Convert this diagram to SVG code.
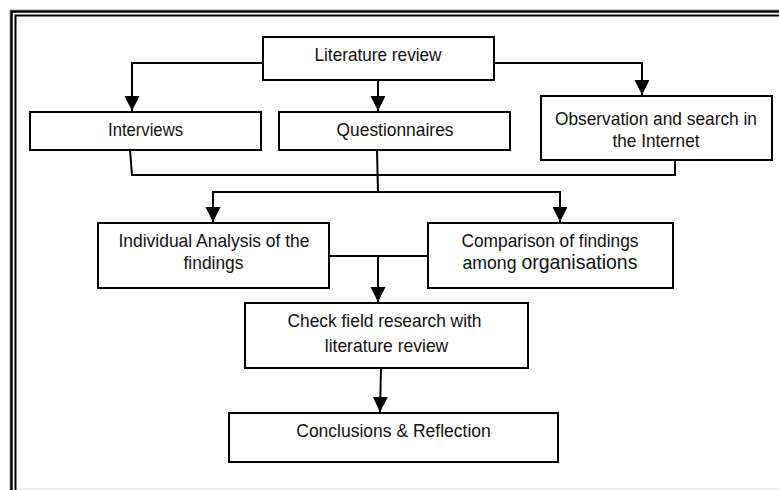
<svg xmlns="http://www.w3.org/2000/svg" width="779" height="490" viewBox="0 0 779 490">
<style>
.box{fill:#fff;stroke:#000;stroke-width:2}
.t{font-family:"Liberation Sans",Arial,sans-serif;font-size:19px;fill:#111;text-anchor:middle}
.c{fill:none;stroke:#000;stroke-width:2}
</style>
<defs>
<marker id="ah" markerUnits="userSpaceOnUse" markerWidth="16" markerHeight="16" refX="15" refY="8" orient="auto">
<path d="M0,0.5 L15,8 L0,15.5 z" fill="#000"/>
</marker>
</defs>
<rect x="0" y="0" width="779" height="490" fill="#fff"/>
<g id="frame">
<path d="M9.5,490 V9.5 H779" fill="none" stroke="#ccc" stroke-width="1"/>
<path d="M11.5,490 V11.5 H779" fill="none" stroke="#000" stroke-width="2.5"/>
<path d="M15.5,490 V15.5 H779" fill="none" stroke="#000" stroke-width="2"/>
<path d="M17,489 H779" fill="none" stroke="#ddd" stroke-width="1"/>
</g>
<g id="connectors">
<path class="c" d="M263,63 H132 V111" marker-end="url(#ah)"/>
<path class="c" d="M378,80 V111" marker-end="url(#ah)"/>
<path class="c" d="M494,63 H642 V95" marker-end="url(#ah)"/>
<path class="c" d="M130,150 L132,175 H675 V160"/>
<path class="c" d="M377,150 L378,192"/>
<path class="c" d="M378,192 H213 V222" marker-end="url(#ah)"/>
<path class="c" d="M378,192 H560 V222" marker-end="url(#ah)"/>
<path class="c" d="M329,256 H428"/>
<path class="c" d="M378,256 V302" marker-end="url(#ah)"/>
<path class="c" d="M381,368 L380,412" marker-end="url(#ah)"/>
</g>
<g id="literature-review">
<rect class="box" x="263" y="37" width="231" height="43"/>
<text class="t" x="378" y="61" textLength="127" lengthAdjust="spacingAndGlyphs">Literature review</text>
</g>
<g id="interviews">
<rect class="box" x="30" y="112" width="231" height="38"/>
<text class="t" x="145.5" y="136" textLength="75" lengthAdjust="spacingAndGlyphs">Interviews</text>
</g>
<g id="questionnaires">
<rect class="box" x="279" y="112" width="231" height="38"/>
<text class="t" x="395" y="136" textLength="117" lengthAdjust="spacingAndGlyphs">Questionnaires</text>
</g>
<g id="observation">
<rect class="box" x="541" y="96" width="231" height="64"/>
<text class="t" x="656" y="124.5" textLength="202" lengthAdjust="spacingAndGlyphs">Observation and search in</text>
<text class="t" x="656" y="146.5" textLength="87" lengthAdjust="spacingAndGlyphs">the Internet</text>
</g>
<g id="individual-analysis">
<rect class="box" x="98" y="223" width="231" height="65"/>
<text class="t" x="214" y="246.5" textLength="191" lengthAdjust="spacingAndGlyphs">Individual Analysis of the</text>
<text class="t" x="213.5" y="268.5" textLength="60" lengthAdjust="spacingAndGlyphs">findings</text>
</g>
<g id="comparison">
<rect class="box" x="428" y="223" width="245" height="65"/>
<text class="t" x="550" y="246.5" textLength="177" lengthAdjust="spacingAndGlyphs">Comparison of findings</text>
<text class="t" x="550" y="268.5" textLength="175" lengthAdjust="spacingAndGlyphs">among <tspan font-size="21px">organisations</tspan></text>
</g>
<g id="check-field">
<rect class="box" x="245" y="303" width="283" height="65"/>
<text class="t" x="384.5" y="326.5" textLength="194" lengthAdjust="spacingAndGlyphs">Check field research with</text>
<text class="t" x="386.5" y="351.5" textLength="123.5" lengthAdjust="spacingAndGlyphs">literature review</text>
</g>
<g id="conclusions">
<rect class="box" x="229" y="413" width="329" height="49"/>
<text class="t" x="393.5" y="436.5" textLength="194.5" lengthAdjust="spacingAndGlyphs">Conclusions &amp; Reflection</text>
</g>
</svg>
